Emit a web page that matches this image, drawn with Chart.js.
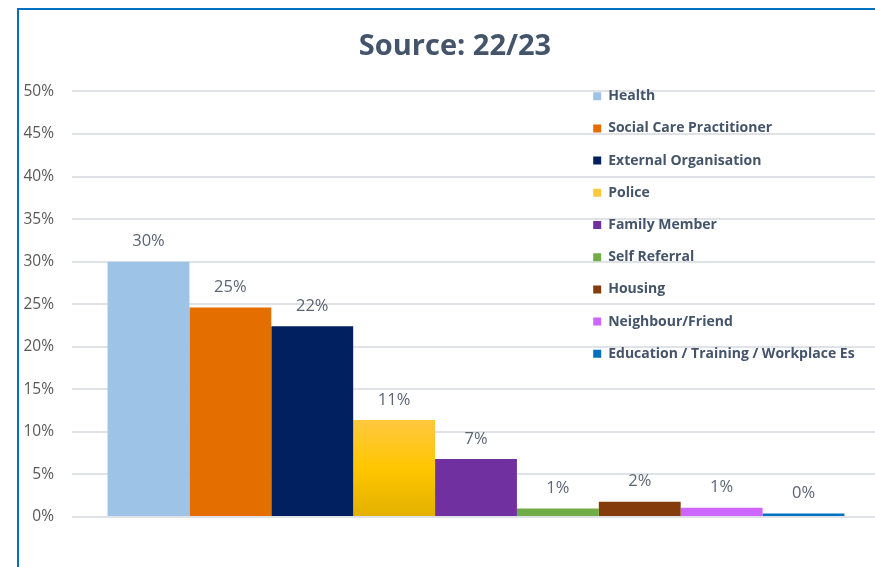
<!DOCTYPE html>
<html>
<head>
<meta charset="utf-8">
<script src="https://cdn.jsdelivr.net/npm/chart.js@4/dist/chart.umd.min.js"></script>
<style>
    html, body { margin: 0; padding: 0; overflow: hidden; background: #ffffff; }
    #wrap { position: relative; width: 880px; height: 567px; }
    #frame {
        position: absolute; left: 17px; top: 8px; width: 900px; height: 600px;
        border-left: 2px solid #0070c0; border-top: 2px solid #0070c0;
        pointer-events: none;
    }
</style>
</head>
<body>
<div id="wrap">
    <canvas id="chartSource"></canvas>
    <div id="frame"></div>
</div>
<script>

var categories = ['Health', 'Social Care Practitioner', 'External Organisation', 'Police', 'Family Member',
    'Self Referral', 'Housing', 'Neighbour/Friend', 'Education / Training / Workplace Es'];

// share of referrals, in percent
var sourceValues = [30.0, 24.6, 22.4, 11.4, 6.8, 1.0, 1.8, 1.1, 0.4];

var barColors = ['#9dc3e6', '#e46f00', '#002060', '#ffc000', '#7030a0', '#70ad47', '#843c0c', '#cc66ff', '#0070c0'];

var yTicks = [0, 5, 10, 15, 20, 25, 30, 35, 40, 45, 50];

var textColor = '#44546a';

// police bar has a yellow gradient, like in the original sheet
var policeFill = function(ctx) {
    var chart = ctx.chart;
    if (ctx.type !== 'data' || !chart.chartArea || !chart.scales.y) {
        return barColors[3];
    }
    var y = chart.scales.y;
    var top = y.getPixelForValue(ctx.raw);
    var bottom = y.getPixelForValue(0);
    var g = chart.ctx.createLinearGradient(0, top, 0, bottom);
    g.addColorStop(0, '#ffc83f');
    g.addColorStop(0.5, '#ffc600');
    g.addColorStop(1, '#e2b000');
    return g;
};

var barLabels = {
    id: 'barLabels',
    afterDatasetsDraw: function(chart) {
        var ctx = chart.ctx;
        ctx.save();
        ctx.font = '16.5px "Open Sans"';
        ctx.fillStyle = '#5b6574';
        ctx.textAlign = 'center';
        ctx.textBaseline = 'middle';
        chart.data.datasets.forEach(function(ds, i) {
            var bar = chart.getDatasetMeta(i).data[0];
            ctx.fillText(Math.round(ds.data[0]) + '%', bar.x, bar.y - 20);
        });
        ctx.restore();
    }
};

// legend goes into the upper right part of the plot, title a bit to the right
var boxPlacement = {
    id: 'boxPlacement',
    afterLayout: function(chart) {
        chart.legend.left = 575;
        chart.legend.top = 71;
        chart.titleBlock.left = 30;
    }
};

var datasets = categories.map(function(name, i) {
    return {
        label: name,
        data: [sourceValues[i]],
        backgroundColor: i === 3 ? policeFill : barColors[i],
        borderWidth: 0
    };
});

var config = {
    type: 'bar',
    plugins: [barLabels, boxPlacement],
    data: {
        labels: [''],
        datasets: datasets
    },
    options: {
        responsive: true,
        maintainAspectRatio: false,
        animation: false,
        layout: {
            padding: { top: 0, right: 0, bottom: 50, left: 0 }
        },
        datasets: {
            bar: {
                categoryPercentage: 0.912,
                barPercentage: 1
            }
        },
        plugins: {
            title: {
                display: true,
                text: 'Source: 22/23',
                color: textColor,
                font: { family: 'Open Sans', size: 29, weight: 'bold', lineHeight: 1.2 },
                padding: { top: 29, bottom: 27.6 }
            },
            legend: {
                position: 'chartArea',
                align: 'start',
                labels: {
                    boxWidth: 8,
                    boxHeight: 8,
                    padding: 18.2,
                    color: textColor,
                    font: { family: 'Open Sans', size: 14, weight: 'bold' }
                }
            },
            tooltip: { enabled: false }
        },
        scales: {
            x: {
                display: false
            },
            y: {
                min: yTicks[0],
                max: yTicks[yTicks.length - 1],
                afterFit: function(scale) {
                    scale.width = 72;
                },
                afterBuildTicks: function(scale) {
                    scale.ticks = yTicks.map(function(v) { return { value: v }; });
                },
                border: { display: false },
                grid: {
                    color: '#dfe3e8',
                    lineWidth: 2,
                    drawTicks: false
                },
                ticks: {
                    padding: 18,
                    color: '#595959',
                    font: { family: 'Open Sans', size: 15.5 },
                    callback: function(value) {
                        return value + '%';
                    }
                }
            }
        }
    }
};

new Chart(document.getElementById('chartSource'), config);

</script>
</body>
</html>
